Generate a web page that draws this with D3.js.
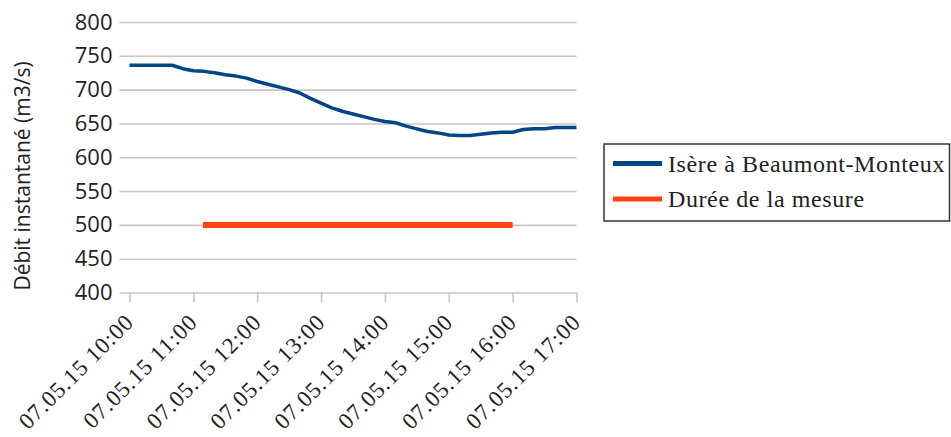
<!DOCTYPE html>
<html>
<head>
<meta charset="utf-8">
<script src="https://cdn.jsdelivr.net/npm/d3@7/dist/d3.min.js"></script>
<style>
html,body{margin:0;padding:0;background:#fff;}
svg{display:block;}
</style>
</head>
<body>
<svg id="chart" width="951" height="437"></svg>
<script>
// ---- data ----
const times = ["10:00","10:10","10:20","10:30","10:40","10:50","11:00","11:10","11:20","11:30","11:40","11:50",
  "12:00","12:10","12:20","12:30","12:40","12:50","13:00","13:10","13:20","13:30","13:40","13:50",
  "14:00","14:10","14:20","14:30","14:40","14:50","15:00","15:10","15:20","15:30","15:40","15:50",
  "16:00","16:10","16:20","16:30","16:40","16:50","17:00"];
const debit = [736,736,736,736,736,731,728,727,725,722,720,717,
  712,708,704,700,695,687,680,673,668,664,660,656,
  653,651,646,642,638,636,633,632,632,634,636,637,
  637,641,642,642,644,644,644];
const mesureTimes = ["11:09","16:00"];
const mesureValues = [500,500];
const yTicks = [400,450,500,550,600,650,700,750,800];
const xTickTimes = ["10:00","11:00","12:00","13:00","14:00","15:00","16:00","17:00"];
const seriesNames = ["Isère à Beaumont-Monteux","Durée de la mesure"];
const seriesColors = ["#004586","#ff420e"];
const yTitle = "Débit instantané (m3/s)";
const day = "2015-05-07";

// ---- drawing ----
const parse = d3.timeParse("%Y-%m-%d %H:%M");
const toDate = t => parse(day + " " + t);
const svg = d3.select("#chart");
const mLeft = 129.5, mRight = 576.5, mTop = 22, mBottom = 292.5;

const x = d3.scaleTime().domain([toDate("10:00"), toDate("17:00")]).range([mLeft, mRight]);
const y = d3.scaleLinear().domain([400, 800]).range([mBottom, mTop]);

// horizontal gridlines + ticks
const yAxis = d3.axisLeft(y).tickValues(yTicks).tickSize(-(mRight - mLeft)).tickSizeOuter(0).tickPadding(8);
const gy = svg.append("g").attr("transform", `translate(${mLeft},0)`).call(yAxis);
gy.select(".domain").remove();
gy.selectAll(".tick line").attr("stroke", "#c6c6c6").attr("stroke-width", 1.6).attr("x1", -10);
gy.selectAll(".tick text").attr("font-family", "'Open Sans', sans-serif").attr("font-size", 22)
  .attr("fill", "#222").attr("x", -17);

// vertical gridlines
const xAxis = d3.axisBottom(x).tickValues(xTickTimes.map(toDate)).tickSize(-(mBottom - mTop)).tickSizeOuter(0)
  .tickFormat(d3.timeFormat("%d.%m.%y %H:%M"));
const gx = svg.append("g").attr("transform", `translate(0,${mBottom})`).call(xAxis);
gx.select(".domain").remove();
gx.selectAll(".tick line").attr("stroke", "#c6c6c6").attr("stroke-width", 1.6).attr("y2", 10);
gx.selectAll(".tick text")
  .attr("font-family", "'Liberation Serif', serif").attr("font-size", 23).attr("fill", "#222")
  .attr("letter-spacing", 0.9)
  .attr("text-anchor", "end").attr("dy", 0).attr("y", 0)
  .attr("transform", "translate(5,31) rotate(-45)");

// y title
svg.append("text").attr("transform", `translate(30,176) rotate(-90)`)
  .attr("text-anchor", "middle").attr("font-family", "'Open Sans', sans-serif").attr("font-size", 21)
  .attr("fill", "#222").text(yTitle);

// series
const line = d3.line().x(d => x(d[0])).y(d => y(d[1]));
svg.append("path").datum(times.map((t, i) => [toDate(t), debit[i]]))
  .attr("d", line).attr("fill", "none").attr("stroke", seriesColors[0]).attr("stroke-width", 3.5)
  .attr("stroke-linejoin", "round");
svg.append("path").datum(mesureTimes.map((t, i) => [toDate(t), mesureValues[i]]))
  .attr("d", line).attr("fill", "none").attr("stroke", seriesColors[1]).attr("stroke-width", 6);

// legend
const lg = svg.append("g");
lg.append("rect").attr("x", 604).attr("y", 144).attr("width", 345.5).attr("height", 77)
  .attr("fill", "#fff").attr("stroke", "#333").attr("stroke-width", 1.5);
seriesNames.forEach((n, i) => {
  const yy = 163.5 + i * 35.5;
  lg.append("line").attr("x1", 613).attr("x2", 662).attr("y1", yy).attr("y2", yy)
    .attr("stroke", seriesColors[i]).attr("stroke-width", 5);
  lg.append("text").attr("x", 668).attr("y", yy + 8).attr("font-family", "'Liberation Serif', serif")
    .attr("font-size", 24).attr("letter-spacing", 0.6).attr("fill", "#222").text(n);
});
</script>
</body>
</html>
